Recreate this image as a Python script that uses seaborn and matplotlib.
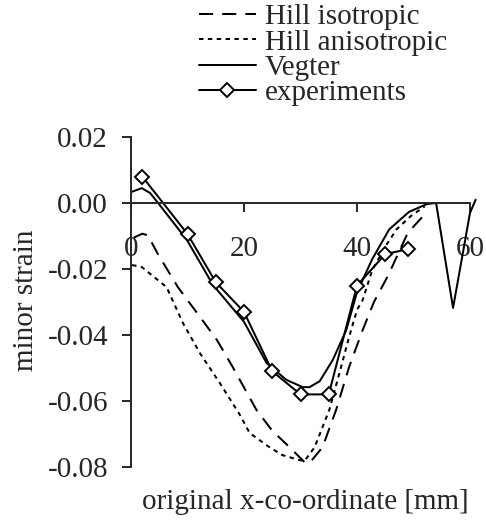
import matplotlib
matplotlib.use("Agg")
import matplotlib.pyplot as plt
import seaborn as sns

# Hill isotropic (long dashes)
iso_x = [0.5, 2, 3, 4.6, 8.3, 12.2, 15.2, 18, 22.2, 25, 28, 30.7, 31.6, 33.9, 36.3, 38.6, 41, 43, 45.5, 49, 52.5]
iso_y = [-0.0105, -0.0093, -0.0098, -0.015, -0.0255, -0.0345, -0.0415, -0.0497, -0.0627, -0.069, -0.0739, -0.0785, -0.0788,
         -0.074, -0.0627, -0.0497, -0.0385, -0.030, -0.022, -0.009, -0.0025]

# Hill anisotropic (short dots)
aniso_x = [0.2, 1.9, 6.3, 9.2, 12.2, 15.7, 19.2, 21, 24.5, 26.8, 29.8, 30.7, 32.5, 35.1, 36.9, 38.6, 40, 41, 42.7, 45.2, 47, 49.5, 52]
aniso_y = [-0.0188, -0.0194, -0.0255, -0.0364, -0.0455, -0.0545, -0.064, -0.0697, -0.074, -0.0764, -0.0779, -0.0782, -0.074,
           -0.0627, -0.0515, -0.0406, -0.0324, -0.0294, -0.0203, -0.0127, -0.008, -0.004, -0.001]

# Vegter (solid)
veg_x = [0, 1.9, 3.4, 4.8, 9.9, 14.5, 20, 24, 27.5, 30.4, 31.6, 33.4, 35.7, 38.1, 40, 42.7, 45.7, 49.2, 52.4, 54, 57, 60, 61]
veg_y = [0.0033, 0.0045, 0.003, 0.0, -0.0112, -0.0248, -0.036, -0.0485, -0.0536, -0.0558, -0.0558, -0.054, -0.0476,
         -0.0385, -0.027, -0.017, -0.008, -0.0027, -0.0003, 0.0, -0.0318, -0.003, 0.001]

# experiments (diamonds)
exp_x = [2, 10, 15, 20, 25, 30, 35, 40, 45, 49]
exp_y = [0.008, -0.0094, -0.024, -0.033, -0.051, -0.058, -0.058, -0.025, -0.0155, -0.014]

sns.set_style("ticks")
plt.rcParams["font.family"] = ["Liberation Serif", "DejaVu Serif"]
fs = 21
plt.rcParams["font.size"] = fs

fig = plt.figure(figsize=(4.86, 5.22), dpi=100)
ax = fig.add_axes([131 / 486, 1 - 467 / 522, (470 - 131) / 486, (467 - 137) / 522])

lw = 1.45
sns.lineplot(x=iso_x, y=iso_y, ax=ax, sort=False, estimator=None, color="black", lw=lw,
             label="Hill isotropic")
ax.lines[-1].set_dashes([7, 4.5])
sns.lineplot(x=aniso_x, y=aniso_y, ax=ax, sort=False, estimator=None, color="black", lw=lw,
             label="Hill anisotropic")
ax.lines[-1].set_dashes([2.2, 2.2])
sns.lineplot(x=veg_x, y=veg_y, ax=ax, sort=False, estimator=None, color="black", lw=lw,
             label="Vegter")
ax.lines[-1].set_clip_on(False)
sns.lineplot(x=exp_x, y=exp_y, ax=ax, sort=False, estimator=None, color="black", lw=lw,
             marker="D", markersize=7.5, markerfacecolor="white", markeredgecolor="black",
             markeredgewidth=1.4, label="experiments")

ax.set_xlim(0, 60)
ax.set_ylim(-0.08, 0.02)
ax.set_xticks([0, 20, 40, 60])
ax.set_yticks([0.02, 0.0, -0.02, -0.04, -0.06, -0.08])
ax.set_yticklabels(["0.02", "0.00", "-0.02", "-0.04", "-0.06", "-0.08"])
ax.spines["bottom"].set_position(("data", 0))
ax.spines["left"].set_position(("data", 0))
ax.spines["top"].set_visible(False)
ax.spines["right"].set_visible(False)
for s in ["bottom", "left"]:
    ax.spines[s].set_linewidth(1.4)
ax.tick_params(axis="x", direction="out", length=6.5, width=1.4, pad=17, labelsize=fs)
ax.tick_params(axis="y", direction="out", length=6.5, width=1.4, pad=10, labelsize=fs)
ax.set_xlabel("")
ax.set_ylabel("")
ax.patch.set_alpha(0)

fig.text(26 / 486, 1 - 300 / 522, "minor strain", rotation=90, ha="center", va="center", fontsize=fs)
fig.text(305 / 486, 1 - 502 / 522, "original x-co-ordinate [mm]", ha="center", va="center", fontsize=fs)

ax.get_legend().remove()
handles, labels = ax.get_legend_handles_labels()
fig.legend(handles, labels, loc="upper left", bbox_to_anchor=(199 / 486, 1 - 4 / 522), frameon=False,
           handlelength=1.95, handletextpad=0.3, labelspacing=-0.04, borderpad=0, borderaxespad=0,
           fontsize=fs)

fig.savefig("out.png", dpi=100)
